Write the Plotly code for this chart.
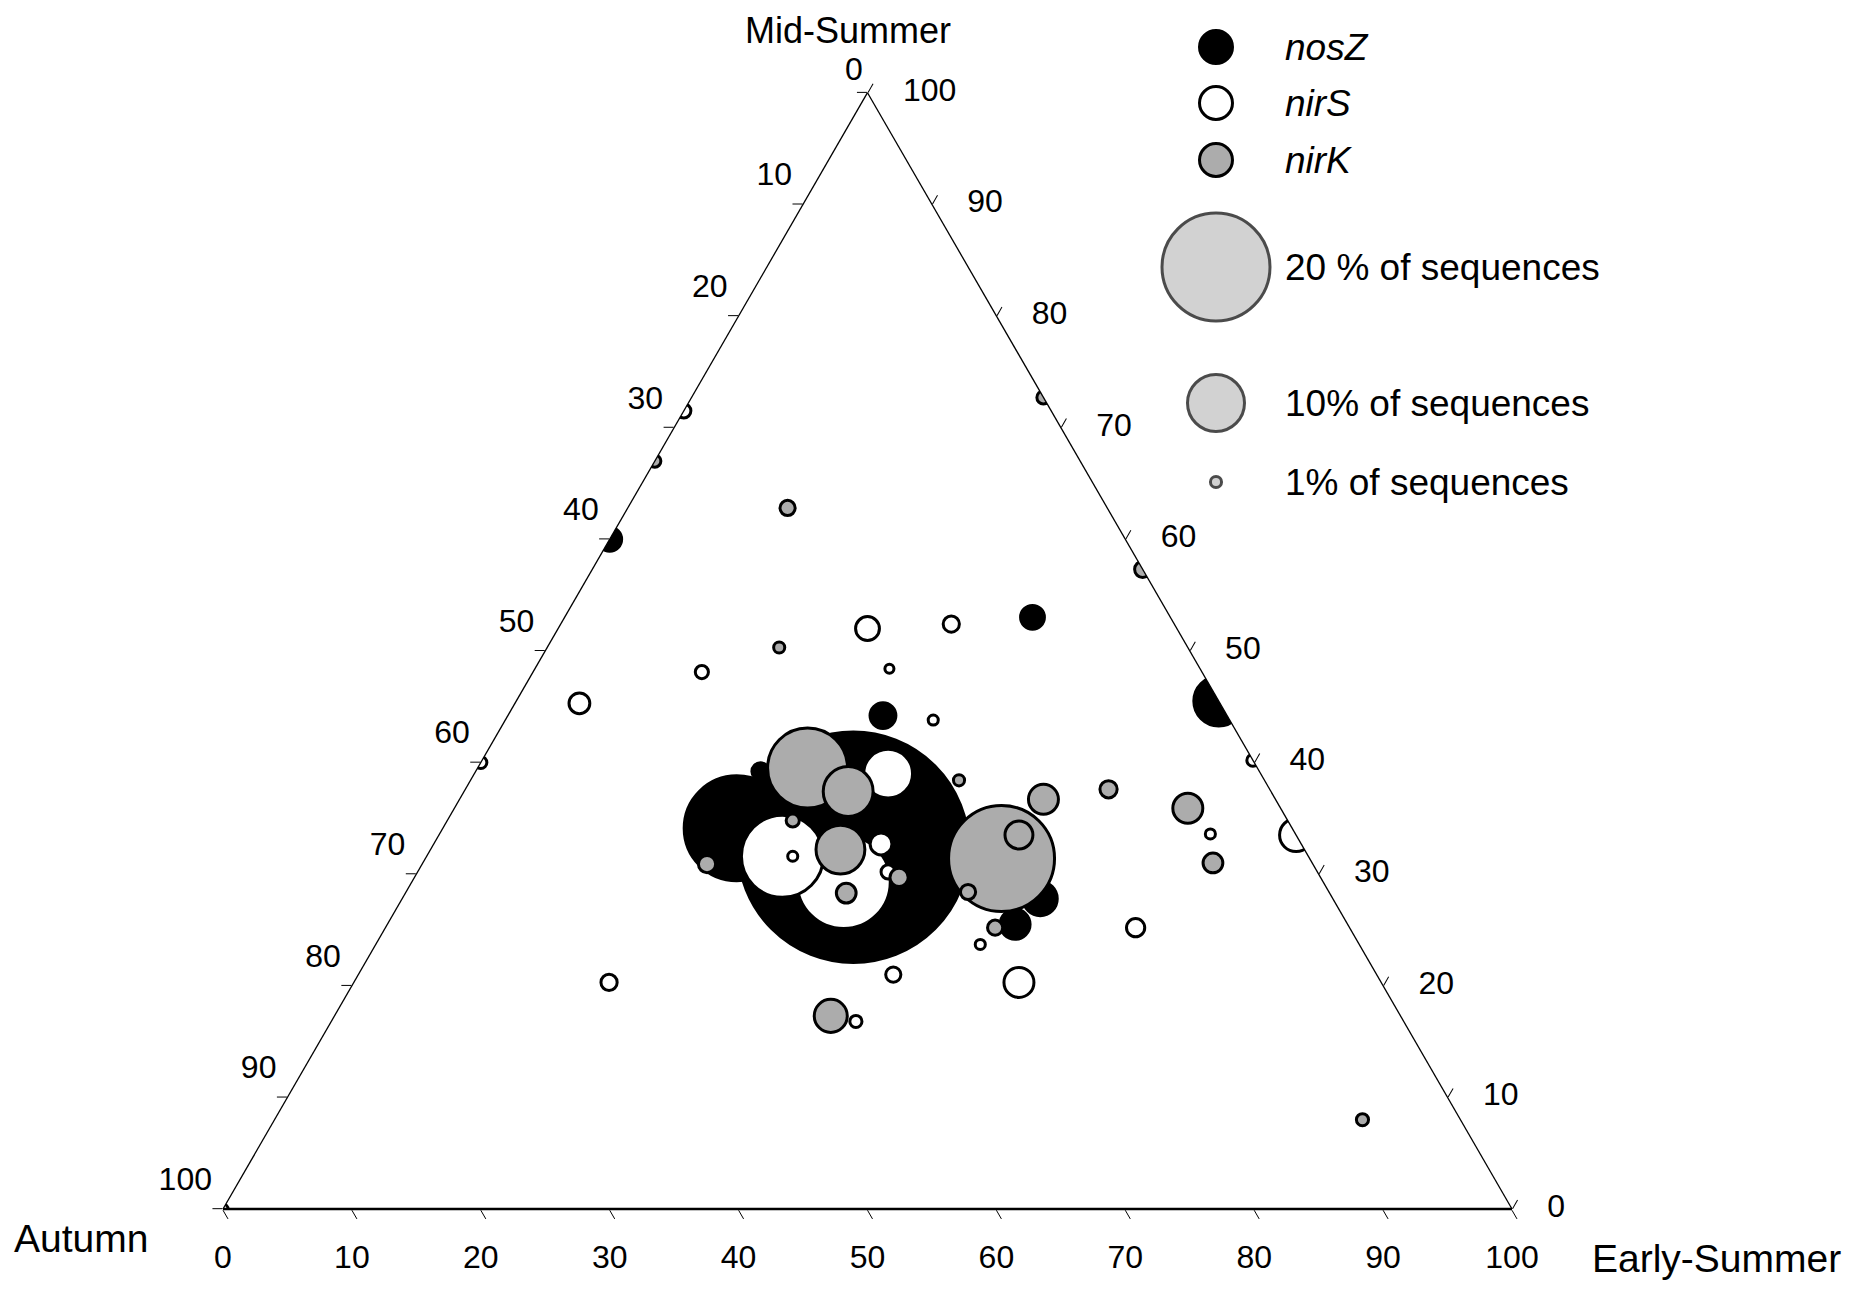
import numpy as np
import plotly.graph_objects as go

W, H = 1866, 1292
PAD = 8  # the page body margin that sits around the figure
FONT = "Arial, Liberation Sans, sans-serif"

# --- data: seasonal share (%) of each OTU, and the OTU's share of sequences (%)
NOSZ_MID = [32.4, 34.1, 44.2, 39.2, 27.8, 25.5, 60.0, 53.0, 45.5]
NOSZ_AUT = [34.9, 43.1, 26.7, 38.7, 22.7, 25.8, 40.0, 10.7, 0.0]
NOSZ_EARLY = [32.7, 22.8, 29.1, 22.1, 49.5, 48.7, 0.0, 36.3, 54.5]
NOSZ_PCT = [44.0, 19.4, 3.9, 2.2, 5.5, 4.7, 3.5, 3.5, 8.6]

NIRS_MID = [31.6, 29.3, 39.0, 32.7, 30.2, 31.6, 43.8, 23.7, 21.0, 20.3, 16.8, 71.5,
            40.0, 45.3, 52.0, 52.4, 48.1, 48.4, 40.2, 33.5, 33.6, 25.2, 20.3, 0.0]
NIRS_AUT = [40.8, 37.2, 28.9, 32.6, 33.3, 40.0, 23.0, 29.4, 37.5, 28.1, 42.5, 28.5,
            60.0, 49.7, 24.0, 17.3, 38.8, 24.1, 0.0, 0.0, 6.6, 16.6, 59.9, 100.0]
NIRS_EARLY = [27.6, 33.5, 32.1, 34.7, 36.5, 28.4, 33.2, 46.9, 41.5, 51.6, 40.7, 0.0,
              0.0, 5.0, 24.0, 30.3, 13.1, 27.5, 59.8, 66.5, 59.8, 58.2, 19.8, 0.0]
NIRS_PCT = [14.9, 17.1, 8.4, 3.1, 1.6, 0.8, 0.8, 0.8, 1.8, 4.7, 1.2, 1.6,
            1.2, 2.9, 3.5, 2.0, 1.4, 0.6, 1.2, 5.3, 0.8, 2.4, 2.0, 0.8]

NIRK_MID = [39.5, 37.4, 32.2, 31.4, 33.5, 36.7, 28.4, 25.2, 38.4, 34.8, 30.9, 29.7,
            28.3, 17.3, 67.0, 62.8, 50.3, 72.7, 57.3, 37.6, 35.9, 31.0, 8.0]
NIRK_AUT = [34.9, 32.8, 36.0, 23.9, 21.5, 18.0, 28.0, 27.5, 23.7, 38.4, 47.0, 32.7,
            37.5, 44.2, 33.0, 24.8, 31.7, 0.0, 0.0, 12.5, 7.2, 7.7, 7.6]
NIRK_EARLY = [25.6, 29.8, 31.8, 44.7, 45.0, 45.3, 43.6, 47.3, 37.9, 26.8, 22.1, 37.6,
              34.2, 38.5, 0.0, 12.4, 18.0, 27.3, 42.7, 49.9, 56.9, 61.3, 84.4]
NIRK_PCT = [14.5, 8.6, 8.4, 19.6, 4.3, 4.7, 1.8, 1.8, 1.0, 1.4, 2.2, 2.4,
            2.7, 5.3, 1.2, 1.8, 1.0, 1.4, 2.0, 2.2, 4.7, 2.7, 1.2]

GENES = ["nosZ", "nirS", "nirK"]
SIZE_KEY = [20, 10, 1]
SIZE_KEY_TEXT = ["20 % of sequences", "10% of sequences", "1% of sequences"]
TICKS = list(range(0, 101, 10))

GENE_FILL = {"nosZ": "#000000", "nirS": "#ffffff", "nirK": "#acacac"}


def diam(pct):
    # bubble diameter (px) from % of sequences, matched to the size key
    return 5.1 * np.asarray(pct, dtype=float) + 6


fig = go.Figure()

series = [
    ("nosZ", NOSZ_MID, NOSZ_AUT, NOSZ_EARLY, NOSZ_PCT),
    ("nirS", NIRS_MID, NIRS_AUT, NIRS_EARLY, NIRS_PCT),
    ("nirK", NIRK_MID, NIRK_AUT, NIRK_EARLY, NIRK_PCT),
]
for name, mid, aut, early, pct in series:
    order = np.argsort(pct)[::-1]  # big bubbles first so small ones sit on top
    fig.add_trace(go.Scatterternary(
        a=np.array(mid)[order], b=np.array(aut)[order], c=np.array(early)[order],
        mode="markers", name=name, showlegend=False,
        marker=dict(size=diam(pct)[order], color=GENE_FILL[name],
                    line=dict(color="black", width=3), opacity=1),
    ))

# --- tick labels: each edge carries the season whose corner it runs toward
t = np.array(TICKS, dtype=float)
zero = np.zeros_like(t)
tick_font = dict(family=FONT, size=32, color="black")
left_standoff = np.where(t == 0, 6, 16)  # top "0" tucked closer, under the title
edge_labels = [
    # (a, b, c, textposition, invisible marker size used as label standoff)
    (100 - t, t, zero, "top left", left_standoff),  # Autumn along the left edge
    (zero, 100 - t, t, "bottom center", 54),        # Early-Summer along the bottom
    (t, zero, 100 - t, "middle right", 55),         # Mid-Summer along the right edge
]
for a, b, c, pos, standoff in edge_labels:
    fig.add_trace(go.Scatterternary(
        a=a, b=b, c=c, mode="markers+text", text=[str(v) for v in TICKS],
        textposition=pos, textfont=tick_font, cliponaxis=False,
        marker=dict(size=standoff, color="rgba(0,0,0,0)", line=dict(width=0)),
        showlegend=False, hoverinfo="skip",
    ))

# --- hand-built key on a hidden overlay scaled to page pixels
KEY_X = 1216
TEXT_X = 1283
gene_y = [47, 103, 160]
size_y = [267, 403, 482]

fig.add_trace(go.Scatter(
    x=[KEY_X] * len(GENES), y=gene_y, mode="markers", showlegend=False, hoverinfo="skip",
    marker=dict(size=33, color=[GENE_FILL[g] for g in GENES],
                line=dict(color="black", width=3)),
))
fig.add_trace(go.Scatter(
    x=[KEY_X] * len(SIZE_KEY), y=size_y, mode="markers", showlegend=False, hoverinfo="skip",
    marker=dict(size=diam(SIZE_KEY), color="#c0c0c0", line=dict(color="black", width=3)),
))

annotations = []
for g, y in zip(GENES, gene_y):
    annotations.append(dict(x=TEXT_X, y=y, xref="x", yref="y", text=f"<i>{g}</i>",
                            xanchor="left", yanchor="middle", showarrow=False,
                            font=dict(family=FONT, size=37, color="black")))
for txt, y in zip(SIZE_KEY_TEXT, size_y):
    annotations.append(dict(x=TEXT_X, y=y, xref="x", yref="y", text=txt,
                            xanchor="left", yanchor="middle", showarrow=False,
                            font=dict(family=FONT, size=37, color="black")))

# season names at the corners
annotations.append(dict(x=848, y=PAD, xref="x", yref="y", text="Mid-Summer", showarrow=False,
                        xanchor="center", yanchor="top", height=40, valign="middle",
                        font=dict(family=FONT, size=36, color="black")))
for txt, x, y in [("Autumn", 81, 1238), ("Early-Summer", 1716, 1258)]:
    annotations.append(dict(x=x, y=y, xref="x", yref="y", text=txt, showarrow=False,
                            xanchor="center", yanchor="middle",
                            font=dict(family=FONT, size=39, color="black")))


def tern_axis(lw):
    return dict(
        tickmode="array", tickvals=TICKS, showticklabels=False,
        ticks="outside", ticklen=10, tickwidth=1.3, tickcolor="black",
        showgrid=False, showline=True, linecolor="black", linewidth=lw,
        title=dict(text=""),
    )


fig.update_layout(
    width=W, height=H, margin=dict(l=0, r=0, t=0, b=0),
    paper_bgcolor="white", plot_bgcolor="rgba(0,0,0,0)",
    ternary=dict(
        sum=100, bgcolor="white",
        domain=dict(x=[(223 - PAD) / W, (1512 - PAD) / W],
                    y=[(H - (1209 - PAD)) / H, (H - (92.7 - PAD)) / H]),
        aaxis=tern_axis(1.3), baxis=tern_axis(2.5), caxis=tern_axis(1.3),
    ),
    xaxis=dict(range=[PAD, W + PAD], visible=False, fixedrange=True),
    yaxis=dict(range=[H + PAD, PAD], visible=False, fixedrange=True),
    annotations=annotations,
)

fig.write_html("out.html", config={"displayModeBar": False})
